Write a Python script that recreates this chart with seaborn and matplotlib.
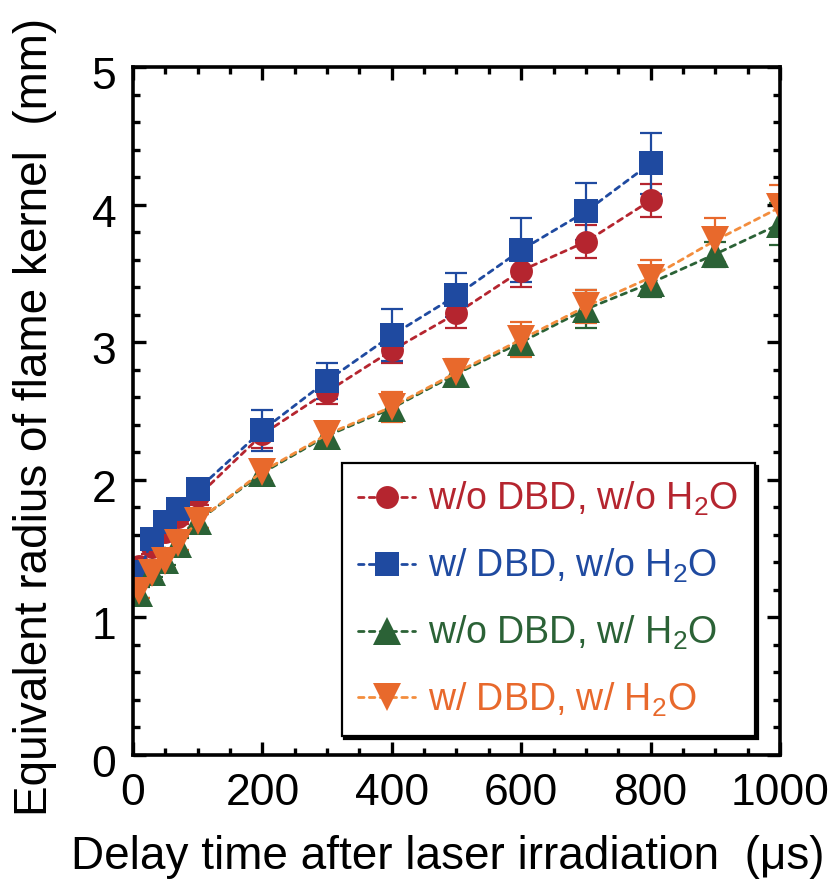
import numpy as np
import pandas as pd
import matplotlib
matplotlib.use("Agg")
import matplotlib.pyplot as plt
import matplotlib.transforms as mtransforms
from matplotlib.ticker import MultipleLocator
import seaborn as sns

# ---------------- data ----------------
t_full = [10, 30, 50, 70, 100, 200, 300, 400, 500, 600, 700, 800, 900, 1000]
t_short = [10, 30, 50, 70, 100, 200, 300, 400, 500, 600, 700, 800]

r_nodbd_noh2o = [1.37, 1.51, 1.62, 1.73, 1.88, 2.33, 2.64, 2.94, 3.21, 3.52, 3.73, 4.03]
e_nodbd_noh2o = [0.05, 0.05, 0.05, 0.05, 0.06, 0.10, 0.09, 0.09, 0.11, 0.12, 0.12, 0.12]

r_dbd_noh2o = [1.33, 1.57, 1.69, 1.79, 1.93, 2.36, 2.72, 3.05, 3.34, 3.67, 3.95, 4.30]
e_dbd_noh2o = [0.05, 0.05, 0.05, 0.06, 0.07, 0.15, 0.13, 0.19, 0.16, 0.23, 0.21, 0.22]

r_nodbd_h2o = [1.18, 1.33, 1.42, 1.53, 1.70, 2.05, 2.32, 2.52, 2.77, 3.00, 3.24, 3.43, 3.64, 3.86]
e_nodbd_h2o = [0.04, 0.04, 0.04, 0.05, 0.05, 0.08, 0.08, 0.08, 0.08, 0.10, 0.14, 0.10, 0.09, 0.15]

r_dbd_h2o = [1.19, 1.32, 1.41, 1.54, 1.70, 2.06, 2.33, 2.53, 2.78, 3.02, 3.26, 3.47, 3.74, 3.98]
e_dbd_h2o = [0.05, 0.05, 0.05, 0.05, 0.05, 0.07, 0.08, 0.11, 0.10, 0.13, 0.12, 0.13, 0.16, 0.16]

labels = [r"w/o DBD, w/o H$_\mathregular{2}$O",
          r"w/ DBD, w/o H$_\mathregular{2}$O",
          r"w/o DBD, w/ H$_\mathregular{2}$O",
          r"w/ DBD, w/ H$_\mathregular{2}$O"]

x_ticks = [0, 200, 400, 600, 800, 1000]
y_ticks = [0, 1, 2, 3, 4, 5]

# ---------------- style ----------------
sns.set_theme(style="ticks")
plt.rcParams['font.family'] = ['Liberation Sans', 'DejaVu Sans']
plt.rcParams['mathtext.fontset'] = 'custom'
plt.rcParams['mathtext.rm'] = 'Liberation Sans'
plt.rcParams['mathtext.it'] = 'Liberation Sans:italic'
plt.rcParams['mathtext.bf'] = 'Liberation Sans:bold'
for k in ['text.color', 'axes.labelcolor', 'xtick.color', 'ytick.color',
          'axes.edgecolor']:
    plt.rcParams[k] = 'black'

fig = plt.figure(figsize=(8.37, 8.84), dpi=100)
ax = fig.add_axes([133/837, 1-755/884, (780-133)/837, (755-67)/884])

series = [
    dict(t=t_short, r=r_nodbd_noh2o, e=e_nodbd_noh2o, marker='o', ms=16.5,
         mc='#B5252F', lc='#B5252F', tc='#B5252F'),
    dict(t=t_short, r=r_dbd_noh2o, e=e_dbd_noh2o, marker='s', ms=17,
         mc='#1F4AA0', lc='#1F4AA0', tc='#1F4AA0'),
    dict(t=t_full, r=r_nodbd_h2o, e=e_nodbd_h2o, marker='^', ms=19.5,
         mc='#2B6236', lc='#2B6236', tc='#2B6236'),
    dict(t=t_full, r=r_dbd_h2o, e=e_dbd_h2o, marker='v', ms=19.5,
         mc='#E8692C', lc='#F38D3D', tc='#E8692C'),
]

# error bars first (underneath markers)
for s in series:
    ax.errorbar(s['t'], s['r'], yerr=s['e'], fmt='none', ecolor=s['mc'],
                elinewidth=1.6, capsize=8, capthick=1.6, zorder=1.5)

handles = []
for i, (s, lab) in enumerate(zip(series, labels)):
    df = pd.DataFrame({'t': s['t'], 'r': s['r']})
    sns.lineplot(data=df, x='t', y='r', ax=ax, color=s['lc'],
                 marker=s['marker'], markersize=s['ms'],
                 markerfacecolor=s['mc'], markeredgecolor=s['mc'],
                 markeredgewidth=0, linewidth=2.0,
                 linestyle=(0, (2.0, 1.9)), dash_capstyle='round',
                 errorbar=None, sort=False, zorder=2 + 0.1 * i)
    handles.append(ax.lines[-1])

# ---------------- axes ----------------
ax.set_xlim(0, 1000)
ax.set_ylim(0, 5)
ax.set_xticks(x_ticks)
ax.set_yticks(y_ticks)
ax.set_xticklabels([str(v) for v in x_ticks])
ax.set_yticklabels([str(v) for v in y_ticks])
ax.xaxis.set_minor_locator(MultipleLocator(50))
ax.yaxis.set_minor_locator(MultipleLocator(0.2))
ax.tick_params(which='both', direction='in', top=True, right=True,
               color='black', width=2.4)
ax.tick_params(which='major', length=9.5, labelsize=32, pad=12)
ax.tick_params(which='minor', length=5)
ax.tick_params(axis='x', which='major', pad=13)
for sp in ax.spines.values():
    sp.set_linewidth(2.6)
    sp.set_color('black')

# y tick labels are shifted slightly down in the reference
offset = mtransforms.ScaledTranslation(0, -6/100, fig.dpi_scale_trans)
for lab in ax.get_yticklabels():
    lab.set_transform(lab.get_transform() + offset)

ax.set_xlabel("Delay time after laser irradiation  (μs)", fontsize=33)
ax.set_ylabel("Equivalent radius of flame kernel  (mm)", fontsize=33)
ax.xaxis.set_label_coords(0.486, -0.117)
ax.yaxis.set_label_coords(-0.118, 0.491)

# ---------------- legend ----------------
leg = ax.legend(handles, labels, loc='lower right',
                bbox_to_anchor=(0.961, 0.028), borderaxespad=0,
                fontsize=27, frameon=True, fancybox=False, framealpha=1,
                edgecolor='black', handlelength=1.5, handletextpad=0.35,
                labelspacing=0.76, borderpad=0.45,
                shadow={'color': 'black', 'alpha': 1})
leg.get_frame().set_linewidth(1.6)
for txt, s in zip(leg.get_texts(), series):
    txt.set_color(s['tc'])
leg.set_zorder(5)

fig.savefig("out.png", dpi=100)
